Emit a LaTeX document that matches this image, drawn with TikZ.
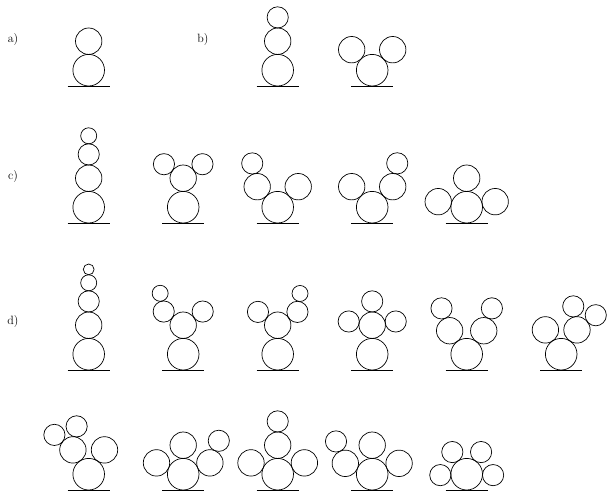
\documentclass[tikz,border=0pt]{standalone}
\usepackage{tikz}
\usetikzlibrary{trees}

\begin{document}
\begin{tikzpicture}[x=1pt, y=1pt,
    tag/.style={font=\large, inner sep=0pt},
    ball/.style={draw, circle, line width=0.7pt, inner sep=0pt},
    lv1/.style={ball, minimum size=31.6pt},
    lv2/.style={ball, minimum size=26.4pt},
    lv3/.style={ball, minimum size=21.2pt},
    lv4/.style={ball, minimum size=16pt},
    lv5/.style={ball, minimum size=10.8pt},
    ground/.style={line width=0.8pt},
    edge from parent/.style={draw=none},
    sibling distance=0pt,
    level 1/.style={level distance=29pt, nodes={lv2}},
    level 2/.style={level distance=23.8pt, nodes={lv3}},
    level 3/.style={level distance=18.6pt, nodes={lv4}},
    level 4/.style={level distance=13.4pt, nodes={lv5}}
]
    \useasboundingbox (0,0) rectangle (608,491);

    % Row labels
    \node[tag] (la) at (13,451.5) {a)};
    \node[tag] (lb) at (203,451.5) {b)};
    \node[tag] (lc) at (13,314) {c)};
    \node[tag] (ld) at (13,169.5) {d)};

    % a) and b)
    \node[lv1] (a1) at (88.7,420.8) {}
        child[grow=90] {node {}};
    \node[lv1] (b1) at (277.7,420.8) {}
        child[grow=90] {node {} child[grow=90] {node {}}};
    \node[lv1] (b2) at (372.2,420.8) {}
        child[grow=135] {node {}}
        child[grow=45] {node {}};

    % c)
    \node[lv1] (c1) at (88.7,283.8) {}
        child[grow=90] {node {} child[grow=90] {node {} child[grow=90] {node {}}}};
    \node[lv1] (c2) at (183.2,283.8) {}
        child[grow=90] {node {} child[grow=144] {node {}} child[grow=36] {node {}}};
    \node[lv1] (c3) at (277.7,283.8) {}
        child[grow=135] {node {} child[grow=102] {node {}}}
        child[grow=45] {node {}};
    \node[lv1] (c4) at (372.2,283.8) {}
        child[grow=135] {node {}}
        child[grow=45] {node {} child[grow=79] {node {}}};
    \node[lv1] (c5) at (466.7,283.8) {}
        child[grow=169] {node {}}
        child[grow=90] {node {}}
        child[grow=11] {node {}};

    % d)
    \node[lv1] (d1) at (88.7,136.8) {}
        child[grow=90] {node {} child[grow=90] {node {} child[grow=90] {node {}
            child[grow=90] {node {}}}}};
    \node[lv1] (d2) at (183.2,136.8) {}
        child[grow=90] {node {}
            child[grow=145] {node {} child[grow=101] {node {}}}
            child[grow=35] {node {}}};
    \node[lv1] (d3) at (277.7,136.8) {}
        child[grow=90] {node {}
            child[grow=146] {node {}}
            child[grow=34] {node {} child[grow=82] {node {}}}};
    \node[lv1] (d4) at (372.2,136.8) {}
        child[grow=90] {node {}
            child[grow=171] {node {}}
            child[grow=90] {node {}}
            child[grow=9] {node {}}};
    \node[lv1] (d5) at (466.7,136.8) {}
        child[grow=126] {node {} child[grow=110] {node {}}}
        child[grow=54] {node {} child[grow=70] {node {}}};
    \node[lv1] (d6) at (561.2,136.8) {}
        child[grow=123] {node {}}
        child[grow=57] {node {} child[grow=99] {node {}} child[grow=38] {node {}}};

    % last row
    \node[lv1] (e1) at (88.7,16.8) {}
        child[grow=123] {node {} child[grow=141] {node {}} child[grow=81] {node {}}}
        child[grow=57] {node {}};
    \node[lv1] (e2) at (183.2,16.8) {}
        child[grow=157] {node {}}
        child[grow=90] {node {}}
        child[grow=23] {node {} child[grow=68] {node {}}};
    \node[lv1] (e3) at (277.7,16.8) {}
        child[grow=157] {node {}}
        child[grow=90] {node {} child[grow=90] {node {}}}
        child[grow=23] {node {}};
    \node[lv1] (e4) at (372.2,16.8) {}
        child[grow=158] {node {} child[grow=113] {node {}}}
        child[grow=90] {node {}}
        child[grow=22] {node {}};
    \node[lv1] (e5) at (466.7,16.8) {}
        child[grow=182, level distance=26.4pt] {node[lv3] {}}
        child[grow=123, level distance=26.4pt] {node[lv3] {}}
        child[grow=57, level distance=26.4pt] {node[lv3] {}}
        child[grow=-2, level distance=26.4pt] {node[lv3] {}};

    % Ground lines
    \foreach \t in {a1,b1,b2,c1,c2,c3,c4,c5,d1,d2,d3,d4,d5,d6,e1,e2,e3,e4,e5}
        \draw[ground] ([xshift=-21pt]\t.south) -- ([xshift=21pt]\t.south);

\end{tikzpicture}
\end{document}
